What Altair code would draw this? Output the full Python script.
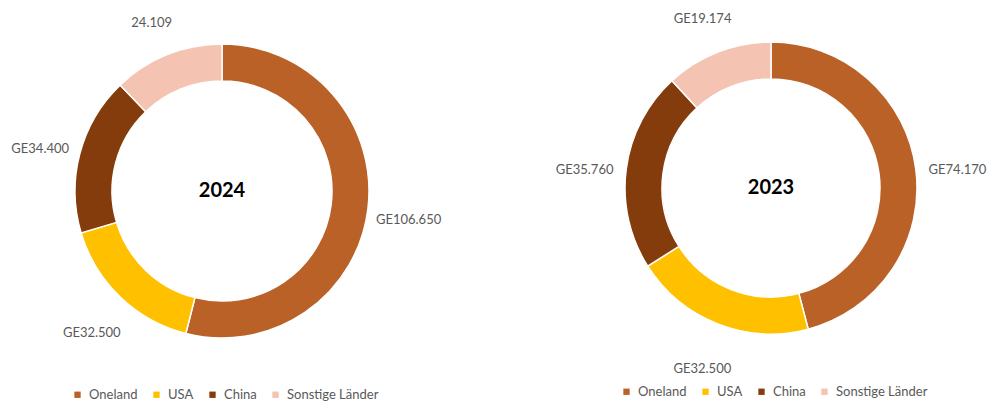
import altair as alt
import pandas as pd

countries = ["Oneland", "USA", "China", "Sonstige Länder"]
colors = ["#BA6127", "#FFC000", "#843C0C", "#F4C3B1"]
years = ["2024", "2023"]
values_2024 = [106650, 32500, 34400, 24109]
values_2023 = [74170, 32500, 35760, 19174]
labels_2024 = ["GE106.650", "GE32.500", "GE34.400", "24.109"]
labels_2023 = ["GE74.170", "GE32.500", "GE35.760", "GE19.174"]

FONT = "Lato"


def donut(year, values, labels, cx, cy, r_out, r_in, r_lab, lx, ly):
    df = pd.DataFrame({"Land": countries, "Wert": values, "Label": labels,
                       "idx": list(range(len(countries)))})
    base = alt.Chart(df).encode(
        theta=alt.Theta("Wert:Q", stack=True),
        order=alt.Order("idx:Q"),
    )
    arc = base.mark_arc(outerRadius=r_out, innerRadius=r_in,
                        stroke="white", strokeWidth=1.5).encode(
        x=alt.value(cx), y=alt.value(cy),
        color=alt.Color(
            "Land:N",
            scale=alt.Scale(domain=countries, range=colors),
            sort=countries,
            legend=alt.Legend(
                title=None, orient="none", legendX=lx, legendY=ly,
                direction="horizontal", symbolType="square", symbolSize=40,
                symbolStrokeWidth=0, labelFont=FONT, labelFontSize=13,
                labelColor="#595959", columnPadding=12, labelOffset=5,
            ),
        ),
    )
    text = base.mark_text(radius=r_lab, dy=6, font=FONT, fontSize=13,
                          color="#595959", align="center",
                          baseline="middle").encode(
        x=alt.value(cx), y=alt.value(cy), text="Label:N"
    )
    center = alt.Chart(pd.DataFrame({"Jahr": [year]})).mark_text(
        font=FONT, fontSize=20, fontWeight="bold", color="#000000",
        align="center", baseline="middle"
    ).encode(x=alt.value(cx), y=alt.value(cy), text="Jahr:N")
    return alt.layer(arc, text, center)


left = donut(years[0], values_2024, labels_2024, 214, 183, 147, 110, 188, 63, 380)
right = donut(years[1], values_2023, labels_2023, 763, 180, 146, 109, 188, 612, 377)

chart = alt.layer(left, right).resolve_scale(
    theta="independent", color="independent"
).resolve_legend(color="independent").properties(
    width=986, height=395, padding=0,
    autosize=alt.AutoSizeParams(type="none"),
).configure_view(stroke=None)

chart.save("out.html", embed_options={"renderer": "svg", "actions": False})
